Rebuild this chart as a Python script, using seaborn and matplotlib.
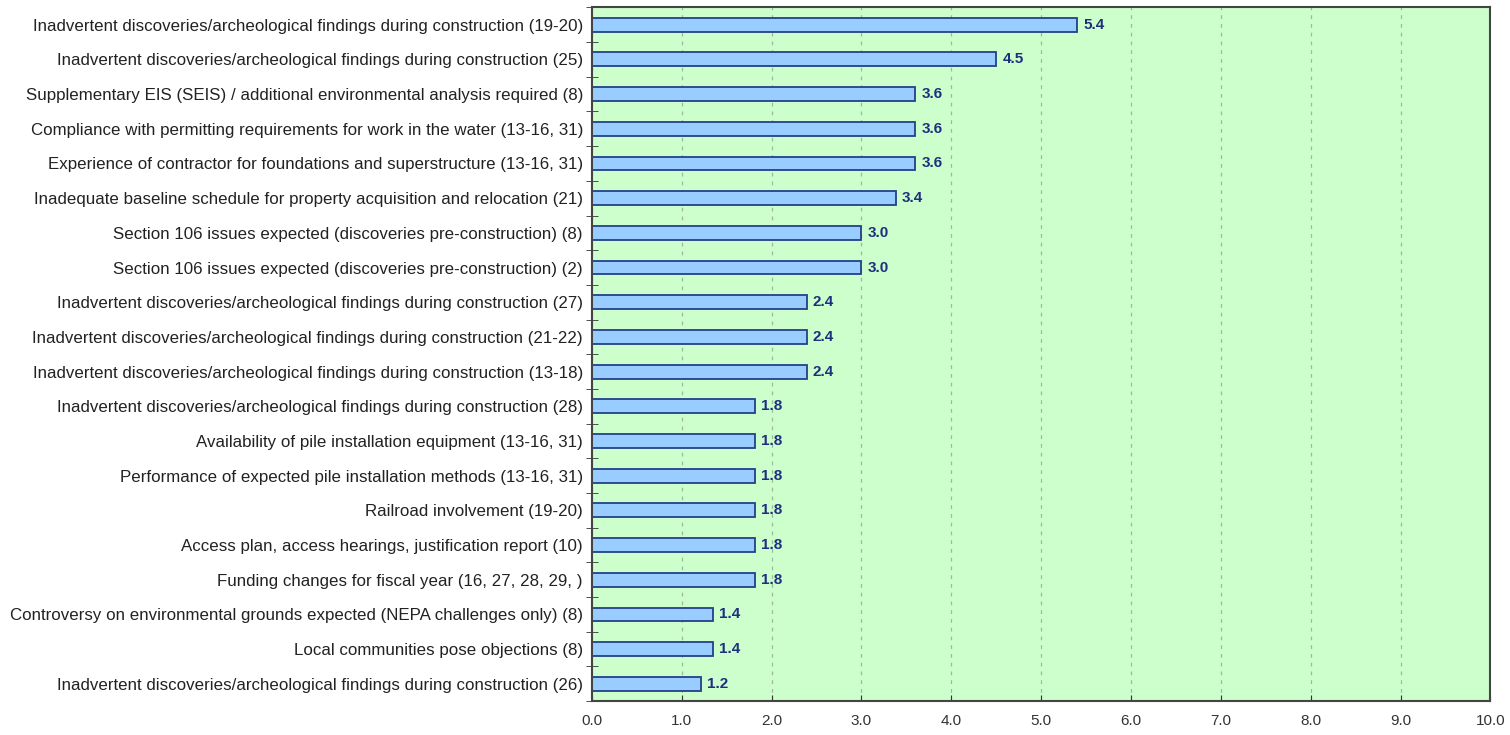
import pandas as pd
import seaborn as sns
import matplotlib.pyplot as plt
import numpy as np

labels = [
    'Inadvertent discoveries/archeological findings during construction (19-20)',
    'Inadvertent discoveries/archeological findings during construction (25)',
    'Supplementary EIS (SEIS) / additional environmental analysis required (8)',
    'Compliance with permitting requirements for work in the water (13-16, 31)',
    'Experience of contractor for foundations and superstructure (13-16, 31)',
    'Inadequate baseline schedule for property acquisition and relocation (21)',
    'Section 106 issues expected (discoveries pre-construction) (8)',
    'Section 106 issues expected (discoveries pre-construction) (2)',
    'Inadvertent discoveries/archeological findings during construction (27)',
    'Inadvertent discoveries/archeological findings during construction (21-22)',
    'Inadvertent discoveries/archeological findings during construction (13-18)',
    'Inadvertent discoveries/archeological findings during construction (28)',
    'Availability of pile installation equipment (13-16, 31)',
    'Performance of expected pile installation methods (13-16, 31)',
    'Railroad involvement (19-20)',
    'Access plan, access hearings, justification report (10)',
    'Funding changes for fiscal year (16, 27, 28, 29, )',
    'Controversy on environmental grounds expected (NEPA challenges only) (8)',
    'Local communities pose objections (8)',
    'Inadvertent discoveries/archeological findings during construction (26)',
]
values = [5.4, 4.5, 3.6, 3.6, 3.6, 3.38, 3.0, 3.0, 2.39, 2.39, 2.39,
          1.81, 1.81, 1.81, 1.81, 1.81, 1.81, 1.35, 1.35, 1.21]
shown = ['5.4', '4.5', '3.6', '3.6', '3.6', '3.4', '3.0', '3.0', '2.4', '2.4', '2.4',
         '1.8', '1.8', '1.8', '1.8', '1.8', '1.8', '1.4', '1.4', '1.2']
x_ticks = [0, 1, 2, 3, 4, 5, 6, 7, 8, 9, 10]

df = pd.DataFrame({'label': labels, 'value': values, 'shown': shown})

plt.rcParams['font.family'] = ['Liberation Sans', 'DejaVu Sans']

fig = plt.figure(figsize=(15.1, 7.35), dpi=100)
ax = fig.add_axes([0.392, 0.046, 0.595, 0.944])
ax.set_facecolor('#CCFFCC')

sns.barplot(data=df, x='value', y='label', orient='h', order=labels,
            color='#99CCFF', edgecolor='#23408A', linewidth=1.3, width=0.4,
            saturation=1, ax=ax)

# value labels right of each bar
for i, row in df.iterrows():
    ax.text(row['value'] + 0.07, i, row['shown'], va='center', ha='left',
            fontsize=11, fontweight='bold', color='#1F2F80')

ax.set_xlim(0, 10)
ax.set_ylim(len(labels) - 0.5, -0.5)
ax.set_xticks(x_ticks)
ax.set_xticklabels([f'{t:.1f}' for t in x_ticks], color='#333333', fontsize=11)
ax.tick_params(axis='x', direction='in', length=4, pad=9, color='#333333')
ax.tick_params(axis='y', which='major', length=0, pad=6.5, labelsize=12.2, labelcolor='#222222')
ax.set_yticks(np.arange(-0.5, len(labels), 1), minor=True)
ax.tick_params(axis='y', which='minor', direction='inout', length=8, color='#333333')
ax.set_xlabel('')
ax.set_ylabel('')
ax.grid(axis='x', linestyle=(0, (3, 4)), color='#9DB89D', linewidth=0.9)
ax.set_axisbelow(True)
for s in ax.spines.values():
    s.set_color('#444444')
    s.set_linewidth(1.5)

fig.savefig('out.png', dpi=100, facecolor='white')
